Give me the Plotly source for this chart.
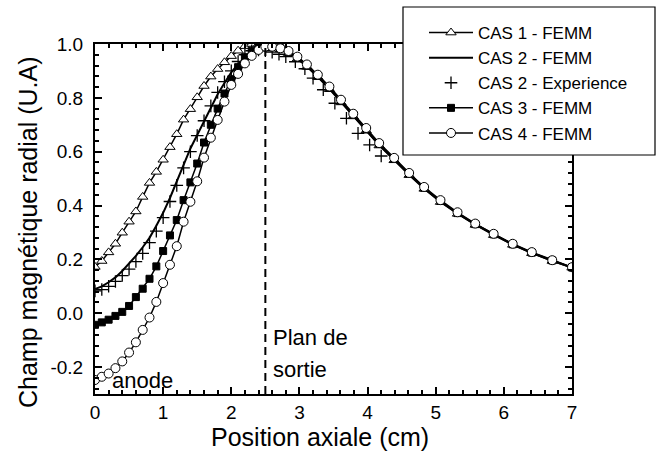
import plotly.graph_objects as go

# ---------------- data ----------------
x_femm = [0.0, 0.1, 0.2, 0.3, 0.4, 0.5, 0.6, 0.7, 0.8, 0.9, 1.0, 1.1, 1.2, 1.3, 1.4,
          1.5, 1.6, 1.7, 1.8, 1.9, 2.0, 2.1, 2.2, 2.3, 2.4, 2.5,
          2.6, 2.72, 2.84, 2.97, 3.11, 3.27, 3.44, 3.61, 3.79, 3.98, 4.17, 4.39,
          4.61, 4.83, 5.07, 5.32, 5.58, 5.85, 6.13, 6.41, 6.71, 7.0]

cas1_femm = [0.172, 0.194, 0.226, 0.258, 0.299, 0.340, 0.378, 0.432, 0.484, 0.525, 0.570, 0.617,
             0.665, 0.719, 0.758, 0.802, 0.844, 0.879, 0.907, 0.932, 0.955, 0.975, 0.992, 1.0,
             1.0, 0.997,
             0.990, 0.980, 0.966, 0.945, 0.915, 0.877, 0.832, 0.783, 0.731, 0.678, 0.623, 0.568,
             0.513, 0.462, 0.413, 0.369, 0.328, 0.290, 0.254, 0.223, 0.194, 0.169]

cas2_femm = [0.090, 0.100, 0.115, 0.133, 0.157, 0.183, 0.213, 0.245, 0.280, 0.325, 0.373, 0.428,
             0.490, 0.553, 0.612, 0.662, 0.712, 0.765, 0.813, 0.855, 0.895, 0.925, 0.950, 0.968,
             0.982, 0.990,
             0.990, 0.981, 0.968, 0.947, 0.918, 0.879, 0.835, 0.786, 0.734, 0.681, 0.626, 0.571,
             0.516, 0.464, 0.415, 0.371, 0.330, 0.292, 0.255, 0.224, 0.195, 0.170]

cas3_femm = [-0.043, -0.034, -0.024, -0.010, 0.005, 0.027, 0.060, 0.091, 0.128, 0.174, 0.231, 0.289,
             0.346, 0.420, 0.486, 0.556, 0.634, 0.700, 0.760, 0.816, 0.869, 0.914, 0.951, 0.975,
             0.990, 0.995,
             0.993, 0.984, 0.972, 0.950, 0.920, 0.882, 0.838, 0.789, 0.737, 0.684, 0.629, 0.573,
             0.518, 0.466, 0.417, 0.372, 0.331, 0.293, 0.256, 0.225, 0.196, 0.170]

cas4_femm = [-0.248, -0.236, -0.224, -0.204, -0.179, -0.146, -0.108, -0.062, -0.016, 0.042, 0.112, 0.180,
             0.249, 0.340, 0.414, 0.490, 0.578, 0.652, 0.718, 0.786, 0.848, 0.889, 0.928, 0.956,
             0.978, 0.990,
             0.990, 0.984, 0.974, 0.953, 0.924, 0.886, 0.842, 0.793, 0.741, 0.688, 0.632, 0.577,
             0.521, 0.469, 0.420, 0.375, 0.333, 0.295, 0.258, 0.227, 0.197, 0.171]

x_exp = [0.0, 0.1, 0.2, 0.3, 0.4, 0.5, 0.6, 0.7, 0.8, 0.9, 1.0, 1.1, 1.2, 1.3, 1.4, 1.5,
         1.6, 1.7, 1.8, 1.9, 2.0, 2.1, 2.2, 2.3, 2.4, 2.5, 2.6, 2.7, 2.8, 2.94, 3.08,
         3.2, 3.35, 3.52, 3.69, 3.86, 4.03, 4.2]
cas2_exp = [0.083, 0.088, 0.100, 0.118, 0.140, 0.164, 0.192, 0.222, 0.262, 0.305, 0.355, 0.415,
            0.475, 0.540, 0.600, 0.660, 0.715, 0.770, 0.820, 0.860, 0.900, 0.935, 0.960, 0.975,
            0.978, 0.975, 0.970, 0.962, 0.953, 0.934, 0.908, 0.873, 0.830, 0.780, 0.724, 0.668,
            0.625, 0.584]

legend_names = ["CAS 1 - FEMM", "CAS 2 - FEMM", "CAS 2 - Experience", "CAS 3 - FEMM", "CAS 4 - FEMM"]

x_ticks = [0, 1, 2, 3, 4, 5, 6, 7]
y_ticks = [-0.2, 0.0, 0.2, 0.4, 0.6, 0.8, 1.0]
exit_plane_x = 2.5

# ---------------- figure ----------------
FONT = "Liberation Sans, Arial, sans-serif"
W, H = 656, 455
ML, MR, MT, MB = 95, 84, 44, 61
PW, PH = W - ML - MR, H - MT - MB


def px_to_paper(px, py):
    return (px - ML) / PW, (H - MB - py) / PH


fig = go.Figure()
line_style = dict(color="black", width=1.5)

fig.add_trace(go.Scatter(x=x_femm, y=cas1_femm, name=legend_names[0], mode="lines+markers",
                         line=line_style,
                         marker=dict(symbol="triangle-up", size=9, color="white",
                                     line=dict(color="black", width=1))))
fig.add_trace(go.Scatter(x=x_femm, y=cas2_femm, name=legend_names[1], mode="lines",
                         line=dict(color="black", width=2)))
fig.add_trace(go.Scatter(x=x_exp, y=cas2_exp, name=legend_names[2], mode="markers",
                         marker=dict(symbol="cross-thin", size=9, color="black",
                                     line=dict(color="black", width=1.3))))
fig.add_trace(go.Scatter(x=x_femm, y=cas3_femm, name=legend_names[3], mode="lines+markers",
                         line=line_style,
                         marker=dict(symbol="square", size=7, color="black",
                                     line=dict(color="black", width=1))))
fig.add_trace(go.Scatter(x=x_femm, y=cas4_femm, name=legend_names[4], mode="lines+markers",
                         line=line_style,
                         marker=dict(symbol="circle", size=9, color="white",
                                     line=dict(color="black", width=1))))

# exit plane dashed line
fig.add_shape(type="line", xref="x", yref="y", x0=exit_plane_x, x1=exit_plane_x,
              y0=-0.3, y1=1.0, line=dict(color="black", width=2, dash="8px,5px"))

# legend box
bx0, by0 = px_to_paper(403, 155)
bx1, by1 = px_to_paper(655, 7)
fig.add_shape(type="rect", xref="paper", yref="paper", x0=bx0, y0=by0, x1=bx1, y1=by1,
              line=dict(color="black", width=1.2), fillcolor="white", layer="above")

lx, ly = px_to_paper(424, 15)

axis_common = dict(
    showline=True, linecolor="black", linewidth=2, mirror="ticks",
    ticks="inside", tickcolor="black", tickwidth=2, ticklen=7,
    showgrid=False, zeroline=False,
    tickfont=dict(family=FONT, size=19, color="black"),
)

fig.update_xaxes(range=[0, 7], tickvals=x_ticks, ticktext=[str(v) for v in x_ticks],
                 minor=dict(ticks="inside", dtick=0.2, ticklen=4, tickwidth=1.5, tickcolor="black",
                            showgrid=False),
                 ticklabelstandoff=0, **axis_common)
fig.update_yaxes(range=[-0.3, 1.0], tickvals=y_ticks, ticktext=[f"{v:.1f}" for v in y_ticks],
                 minor=dict(ticks="inside", dtick=0.04, tick0=0, ticklen=4, tickwidth=1.5,
                            tickcolor="black", showgrid=False),
                 ticklabelstandoff=6, **axis_common)

fig.add_annotation(text="anode", xref="x", yref="y", x=0.22, y=-0.248, xanchor="left",
                   yanchor="middle", showarrow=False, font=dict(family=FONT, size=22, color="black"))
fig.add_annotation(text="Plan de", xref="x", yref="y", x=2.58, y=(314 - 338) / 270, xanchor="left",
                   yanchor="middle", showarrow=False, font=dict(family=FONT, size=22, color="black"))
fig.add_annotation(text="sortie", xref="x", yref="y", x=2.58, y=(314 - 370) / 270, xanchor="left",
                   yanchor="middle", showarrow=False, font=dict(family=FONT, size=22, color="black"))

tx, ty = px_to_paper(320, 437)
fig.add_annotation(text="Position axiale (cm)", xref="paper", yref="paper", x=tx, y=ty,
                   xanchor="center", yanchor="middle", showarrow=False,
                   font=dict(family=FONT, size=25, color="black"))
tx, ty = px_to_paper(28, 232)
fig.add_annotation(text="Champ magnétique radial (U.A)", xref="paper", yref="paper", x=tx, y=ty,
                   xanchor="center", yanchor="middle", textangle=-90, showarrow=False,
                   font=dict(family=FONT, size=25, color="black"))

fig.update_layout(
    width=W, height=H,
    margin=dict(l=ML, r=MR, t=MT, b=MB, autoexpand=False),
    paper_bgcolor="white", plot_bgcolor="white",
    showlegend=True,
    legend=dict(x=lx, y=ly, xanchor="left", yanchor="top", bgcolor="rgba(0,0,0,0)",
                borderwidth=0, font=dict(family=FONT, size=17, color="black"),
                itemwidth=44, tracegroupgap=0),
)

fig.write_html("out.html", config={"displayModeBar": False},
               post_script="document.body.style.margin='0';")
